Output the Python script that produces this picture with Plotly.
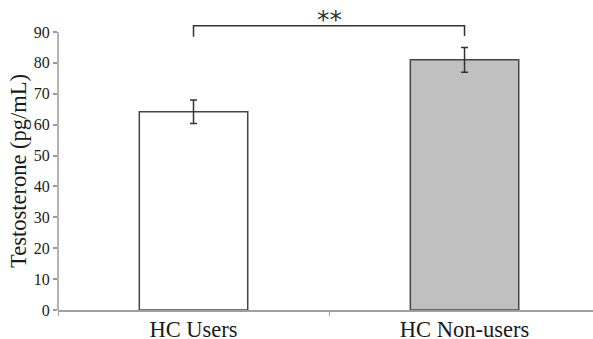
import plotly.graph_objects as go

categories = ["HC Users", "HC Non-users"]
means = [64.2, 81.0]
errors = [3.8, 4.0]
bar_fills = ["#ffffff", "#c0c0c0"]
ytick_vals = [0, 10, 20, 30, 40, 50, 60, 70, 80, 90]
bracket_top = 92.0
bracket_ends = [88.5, 88.7]
sig_label = "**"
y_title = "Testosterone (pg/mL)"

SERIF = "Liberation Serif, Times New Roman, serif"
W, H = 593, 339
ml, mr, mt, mb = 58, 0, 20, 29
px_per_unit = 278 / 90.0
ymax = (H - mt - mb) / px_per_unit

fig = go.Figure()
fig.add_trace(go.Bar(
    x=categories, y=means, width=0.4,
    marker=dict(color=bar_fills, line=dict(color="#454545", width=1.5)),
    error_y=dict(type="data", array=errors, visible=True,
                 color="#333333", thickness=1.5, width=3.5),
    showlegend=False, hoverinfo="skip",
))
fig.add_trace(go.Scatter(
    x=[categories[0], categories[0], categories[1], categories[1]],
    y=[bracket_ends[0], bracket_top, bracket_top, bracket_ends[1]],
    mode="lines", line=dict(color="#333333", width=1.5),
    showlegend=False, hoverinfo="skip", cliponaxis=False,
))
fig.add_annotation(
    x=0.5, y=bracket_top, xref="x", yref="y", text=sig_label,
    showarrow=False, yanchor="bottom", yshift=-10,
    font=dict(family="DejaVu Sans", size=25, color="#333333"),
)
# y-axis title centred on the 0-90 span
fig.add_annotation(
    x=0, y=(ytick_vals[0] + ytick_vals[-1]) / 2, xref="paper", yref="y",
    text=y_title, textangle=-90, showarrow=False,
    xanchor="center", yanchor="middle", xshift=-40,
    font=dict(family=SERIF, size=22.5, color="#1a1a1a"),
)
# y-axis line only from 0 to 90
fig.add_shape(type="line", xref="paper", yref="y", x0=0, x1=0,
              y0=ytick_vals[0], y1=ytick_vals[-1],
              line=dict(color="#9a9a9a", width=1.5))

fig.update_layout(
    width=W, height=H,
    margin=dict(l=ml, r=mr, t=mt, b=mb, pad=0, autoexpand=False),
    plot_bgcolor="white", paper_bgcolor="white",
    font=dict(family=SERIF, color="#222222"),
)
fig.update_xaxes(
    range=[-0.5, 1.474], showline=True, linecolor="#a0a0a0", linewidth=1.5,
    ticks="outside", tickson="boundaries", ticklen=4, tickcolor="#a0a0a0",
    tickfont=dict(family=SERIF, size=22.5, color="#1a1a1a"),
    ticklabelstandoff=-2,
    showgrid=False, zeroline=False, fixedrange=True, automargin=False,
)
fig.update_yaxes(
    range=[0, ymax], showline=False, tickvals=ytick_vals,
    ticks="outside", ticklen=4, tickcolor="#9a9a9a", tickwidth=1.5,
    tickfont=dict(family=SERIF, size=16, color="#1a1a1a"),
    showgrid=False, zeroline=False, automargin=False,
)
fig.write_html("out.html")
